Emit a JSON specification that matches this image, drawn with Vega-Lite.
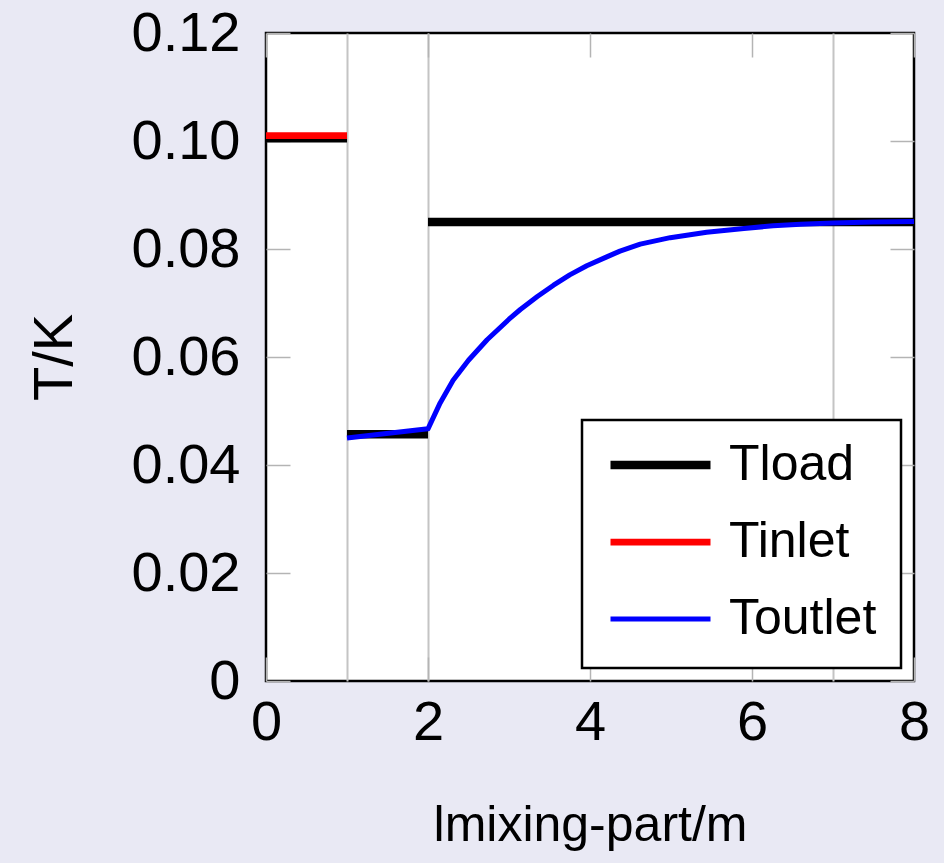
{
  "$schema": "https://vega.github.io/schema/vega-lite/v6.json",
  "autosize": {"type": "none"},
  "padding": {"left": 266, "top": 33, "right": 30, "bottom": 182},
  "width": 648,
  "height": 648,
  "background": "#e9e9f4",
  "config": {
    "view": {"fill": "white", "stroke": "black", "strokeWidth": 2.5},
    "font": "Liberation Sans",
    "axis": {
      "labelFont": "Liberation Sans", "titleFont": "Liberation Sans",
      "labelColor": "black", "titleColor": "black",
      "domain": false, "grid": false,
      "tickColor": "#b4b4b4", "tickWidth": 1.5, "tickSize": -24,
      "labelFontSize": 56, "titleFontSize": 56, "titleFontWeight": "normal",
      "labelFlush": false, "labelOverlap": false
    },
    "legend": {
      "labelFont": "Liberation Sans", "labelColor": "black", "labelFontSize": 50,
      "symbolType": "stroke", "symbolSize": 10000, "labelOffset": 14,
      "padding": 24, "rowPadding": 27, "clipHeight": 42, "titlePadding": 0, "strokeColor": "black", "fillColor": "white",
      "labelLimit": 400, "strokeWidth": 2.5
    }
  },
  "data": {
    "values": [
      {"series": "Tload", "seg": "a", "x": 0, "y": 0.1005},
      {"series": "Tload", "seg": "a", "x": 1, "y": 0.1005},
      {"series": "Tload", "seg": "b", "x": 1, "y": 0.0457},
      {"series": "Tload", "seg": "b", "x": 2, "y": 0.0457},
      {"series": "Tload", "seg": "c", "x": 2, "y": 0.085},
      {"series": "Tload", "seg": "c", "x": 8, "y": 0.085},
      {"series": "Tinlet", "seg": "a", "x": 0, "y": 0.101},
      {"series": "Tinlet", "seg": "a", "x": 1, "y": 0.101},
      {"series": "Toutlet", "seg": "a", "x": 1, "y": 0.045},
      {"series": "Toutlet", "seg": "a", "x": 2, "y": 0.0467},
      {"series": "Toutlet", "seg": "a", "x": 2.15, "y": 0.0515},
      {"series": "Toutlet", "seg": "a", "x": 2.31, "y": 0.0557},
      {"series": "Toutlet", "seg": "a", "x": 2.5, "y": 0.0594},
      {"series": "Toutlet", "seg": "a", "x": 2.73, "y": 0.0632},
      {"series": "Toutlet", "seg": "a", "x": 3.0, "y": 0.067},
      {"series": "Toutlet", "seg": "a", "x": 3.14, "y": 0.0688},
      {"series": "Toutlet", "seg": "a", "x": 3.35, "y": 0.0712},
      {"series": "Toutlet", "seg": "a", "x": 3.55, "y": 0.0733},
      {"series": "Toutlet", "seg": "a", "x": 3.75, "y": 0.0752},
      {"series": "Toutlet", "seg": "a", "x": 3.96, "y": 0.0769},
      {"series": "Toutlet", "seg": "a", "x": 4.2, "y": 0.0785},
      {"series": "Toutlet", "seg": "a", "x": 4.37, "y": 0.0796},
      {"series": "Toutlet", "seg": "a", "x": 4.62, "y": 0.0809},
      {"series": "Toutlet", "seg": "a", "x": 4.99, "y": 0.0821},
      {"series": "Toutlet", "seg": "a", "x": 5.44, "y": 0.0831},
      {"series": "Toutlet", "seg": "a", "x": 5.9, "y": 0.0838},
      {"series": "Toutlet", "seg": "a", "x": 6.26, "y": 0.0843},
      {"series": "Toutlet", "seg": "a", "x": 6.6, "y": 0.0846},
      {"series": "Toutlet", "seg": "a", "x": 7.0, "y": 0.0848},
      {"series": "Toutlet", "seg": "a", "x": 7.5, "y": 0.085},
      {"series": "Toutlet", "seg": "a", "x": 8.0, "y": 0.0851}
    ]
  },
  "encoding": {
    "color": {
      "field": "series", "type": "nominal",
      "scale": {"domain": ["Tload", "Tinlet", "Toutlet"], "range": ["black", "#ff0000", "#0000ff"]},
      "legend": {"title": null, "orient": "bottom-right", "offset": 13}
    },
    "strokeWidth": {
      "field": "series", "type": "nominal",
      "scale": {"domain": ["Tload", "Tinlet", "Toutlet"], "range": [8.5, 5, 5]},
      "legend": {"title": null, "orient": "bottom-right", "offset": 13}
    },
    "detail": {"field": "seg", "type": "nominal"}
  },
  "layer": [
    {
      "transform": [{"filter": "datum.series == 'Tload'"}],
      "mark": {"type": "line", "strokeCap": "butt"},
      "encoding": {
        "x": {"field": "x", "type": "quantitative", "scale": {"domain": [0, 8], "nice": false, "zero": false},
          "axis": {"values": [1, 2, 7], "grid": true, "gridColor": "#c4c4c4", "gridWidth": 2, "ticks": false, "labels": false, "title": null, "domain": false}},
        "y": {"field": "y", "type": "quantitative", "scale": {"domain": [0, 0.12], "nice": false},
          "axis": {"orient": "left", "values": [0, 0.02, 0.04, 0.06, 0.08, 0.1, 0.12], "labelPadding": 50,
            "labelExpr": "datum.value == 0 ? '0' : format(datum.value, '.2f')", "title": "T/K", "titlePadding": 48}}
      }
    },
    {
      "transform": [{"filter": "datum.series == 'Tinlet'"}],
      "mark": {"type": "line", "strokeCap": "butt"},
      "encoding": {
        "x": {"field": "x", "type": "quantitative", "scale": {"domain": [0, 8], "nice": false, "zero": false},
          "axis": {"orient": "bottom", "values": [0, 2, 4, 6, 8], "labelPadding": 38, "title": "lmixing-part/m", "titleFontSize": 50, "titlePadding": 50}},
        "y": {"field": "y", "type": "quantitative", "scale": {"domain": [0, 0.12], "nice": false},
          "axis": {"orient": "right", "values": [0, 0.02, 0.04, 0.06, 0.08, 0.1, 0.12], "labels": false, "title": null}}
      }
    },
    {
      "transform": [{"filter": "datum.series == 'Toutlet'"}],
      "mark": {"type": "line", "strokeCap": "butt", "strokeJoin": "round"},
      "encoding": {
        "x": {"field": "x", "type": "quantitative", "scale": {"domain": [0, 8], "nice": false, "zero": false},
          "axis": {"orient": "top", "values": [0, 2, 4, 6, 8], "labels": false, "title": null}},
        "y": {"field": "y", "type": "quantitative", "scale": {"domain": [0, 0.12], "nice": false}, "axis": null}
      }
    }
  ],
  "resolve": {"axis": {"x": "independent", "y": "independent"}}
}
